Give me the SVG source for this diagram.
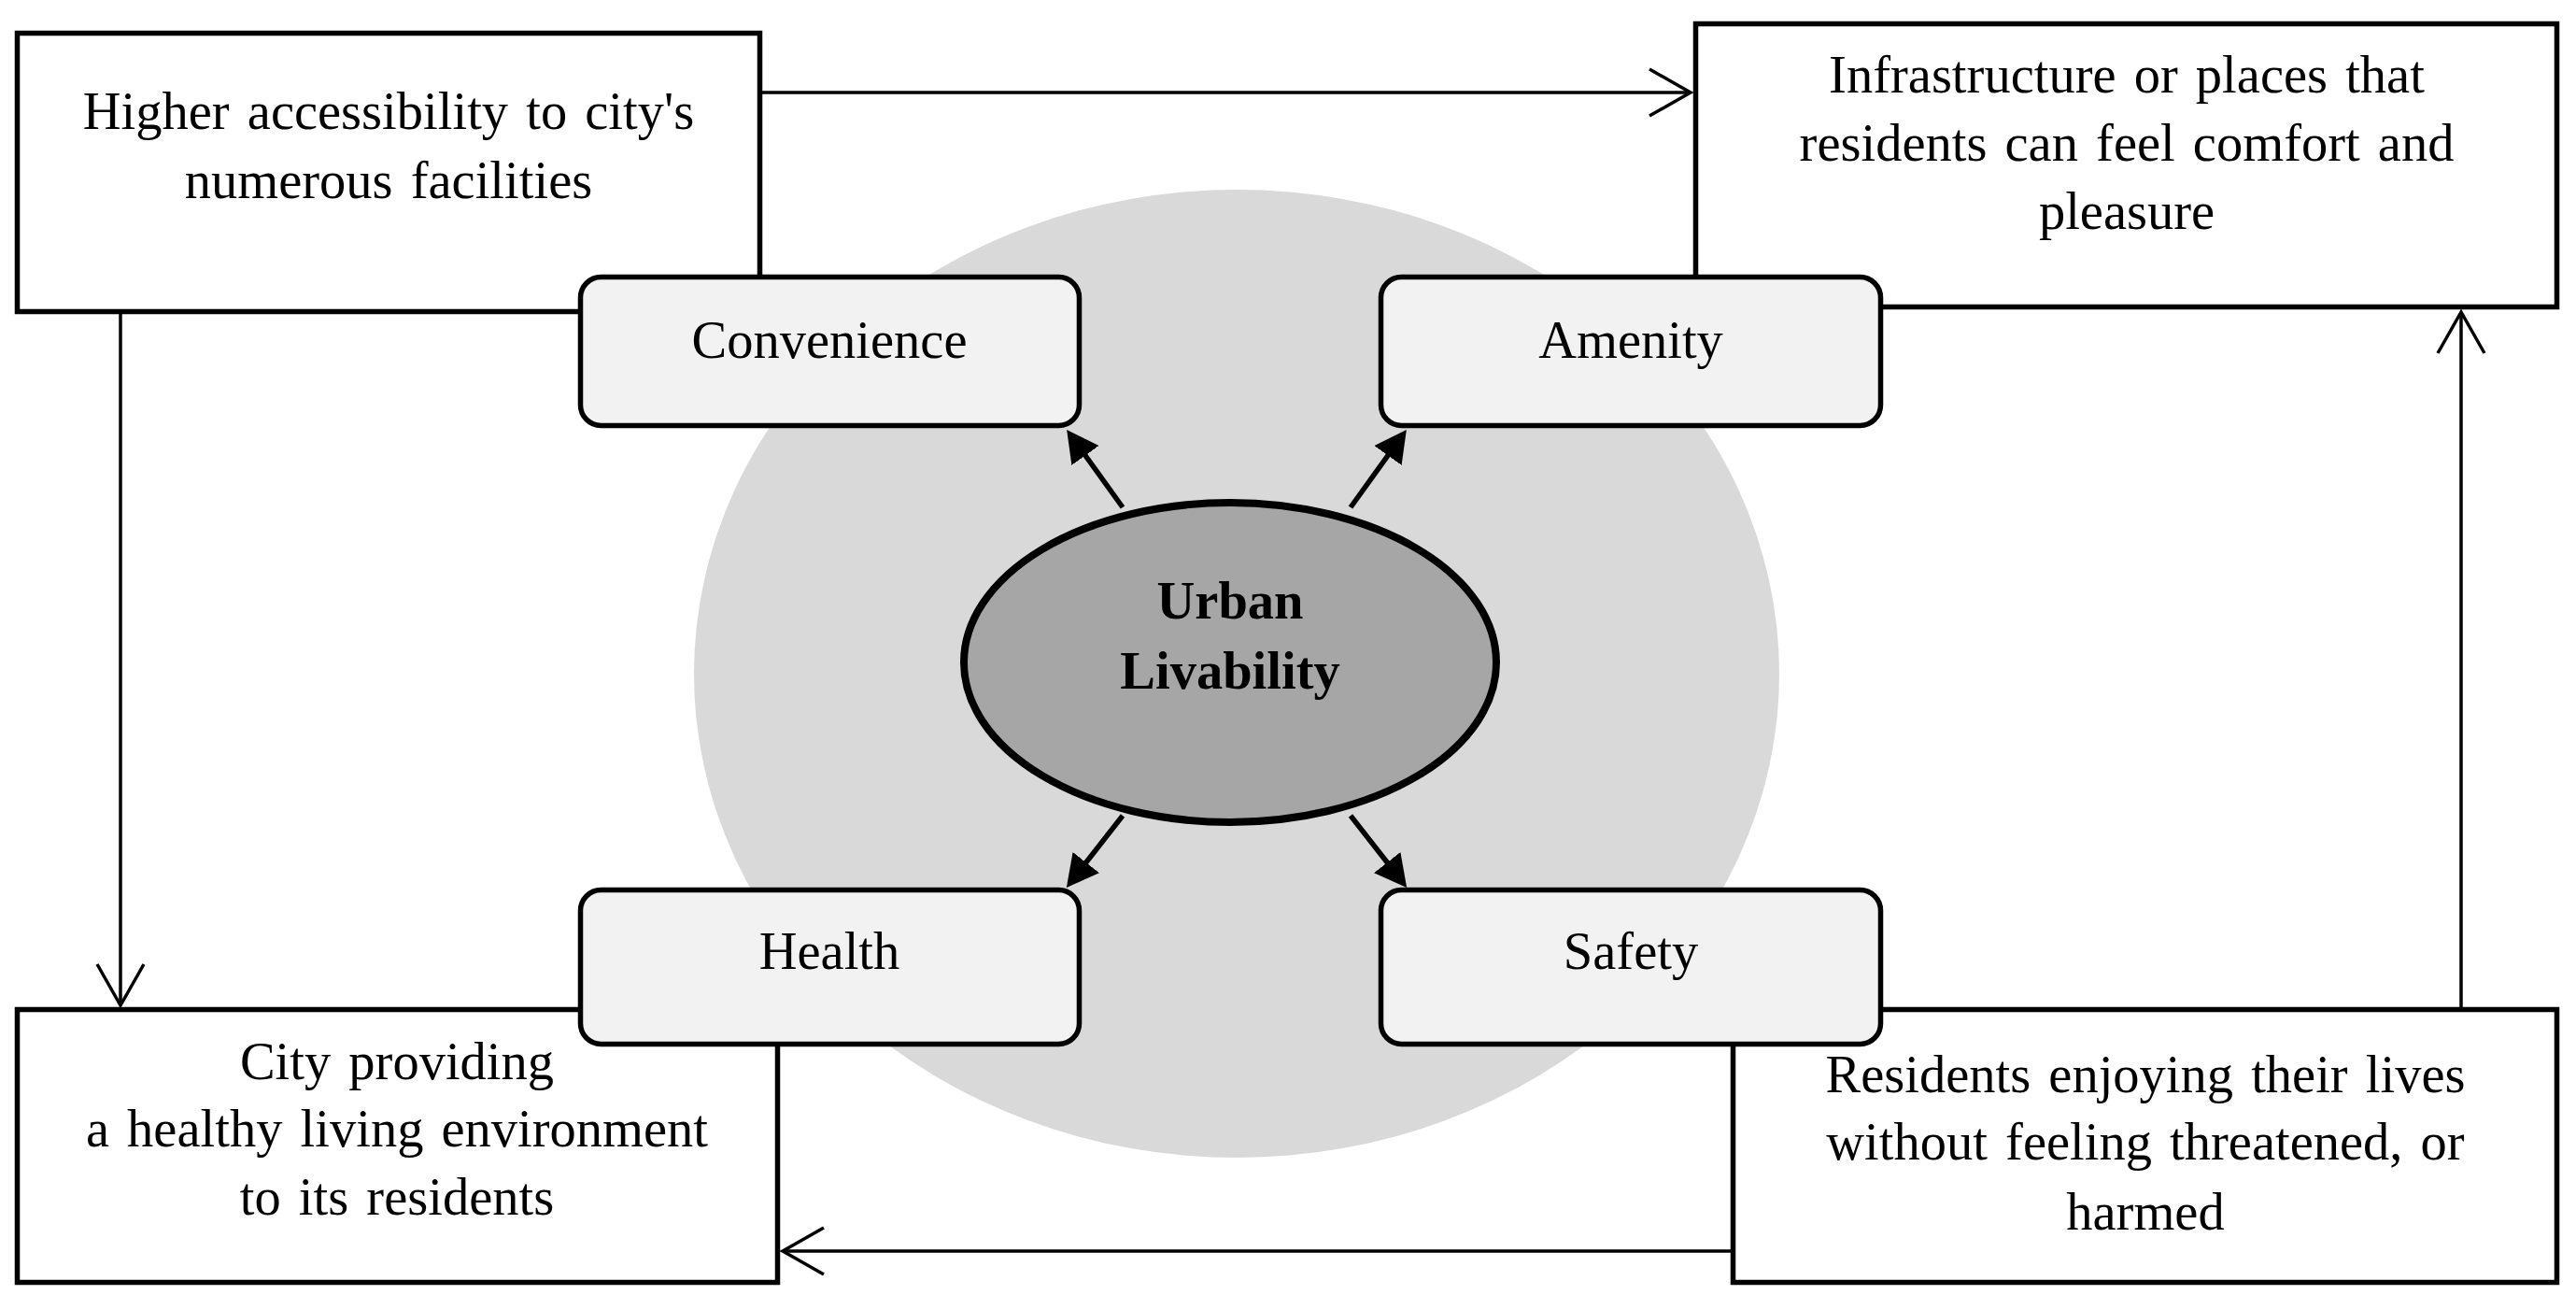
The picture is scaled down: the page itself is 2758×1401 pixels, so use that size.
<svg xmlns="http://www.w3.org/2000/svg" width="2758" height="1401" viewBox="0 0 2758 1401">
<style>
.box{fill:#ffffff;stroke:#000;stroke-width:5.5}
.rbox{fill:#f2f2f2;stroke:#000;stroke-width:5.5}
.t{font-family:"Liberation Serif","Times New Roman",serif;font-size:56.5px;fill:#000;text-anchor:middle;word-spacing:5px}
.tb{font-weight:bold}
.conn{fill:none;stroke:#000;stroke-width:3.5}
.arr{fill:none;stroke:#000;stroke-width:5.5}
</style>
<defs>
<marker id="open" markerUnits="userSpaceOnUse" viewBox="0 0 50 54" refX="46" refY="27" markerWidth="50" markerHeight="54" orient="auto">
<path d="M2,2 L46,27 L2,52" fill="none" stroke="#000" stroke-width="3.5"/>
</marker>
<marker id="solid" markerUnits="userSpaceOnUse" viewBox="0 0 34 36" refX="24" refY="18" markerWidth="34" markerHeight="36" orient="auto">
<path d="M0,0 L34,18 L0,36 z" fill="#000"/>
</marker>
</defs>
<rect width="2758" height="1401" fill="#ffffff"/>
<g id="background">
<ellipse cx="1324" cy="721" rx="581" ry="518" fill="#d9d9d9"/>
</g>
<g id="connectors">
<path class="conn" d="M816 99 H1810" marker-end="url(#open)"/>
<path class="conn" d="M129 336 V1076" marker-end="url(#open)"/>
<path class="conn" d="M1853 1339 H838" marker-end="url(#open)"/>
<path class="conn" d="M2635 1078 V334" marker-end="url(#open)"/>
<path class="arr" d="M1202 543 L1148 468" marker-end="url(#solid)"/>
<path class="arr" d="M1446 543 L1500 468" marker-end="url(#solid)"/>
<path class="arr" d="M1202 873 L1148 942" marker-end="url(#solid)"/>
<path class="arr" d="M1446 873 L1500 942" marker-end="url(#solid)"/>
</g>
<g id="node-accessibility">
<rect class="box" x="18.5" y="35.5" width="795" height="298"/>
<text class="t" x="416" y="138">Higher accessibility to city's</text>
<text class="t" x="416" y="212">numerous facilities</text>
</g>
<g id="node-infrastructure">
<rect class="box" x="1815.5" y="25.5" width="922" height="303"/>
<text class="t" x="2277" y="99">Infrastructure or places that</text>
<text class="t" x="2277" y="172">residents can feel comfort and</text>
<text class="t" x="2277" y="245">pleasure</text>
</g>
<g id="node-healthy-city">
<rect class="box" x="18.5" y="1080.5" width="814" height="292"/>
<text class="t" x="425" y="1155">City providing</text>
<text class="t" x="425" y="1227">a healthy living environment</text>
<text class="t" x="425" y="1300">to its residents</text>
</g>
<g id="node-residents">
<rect class="box" x="1855.5" y="1080.5" width="882" height="292"/>
<text class="t" x="2297" y="1169">Residents enjoying their lives</text>
<text class="t" x="2297" y="1241">without feeling threatened, or</text>
<text class="t" x="2297" y="1316">harmed</text>
</g>
<g id="node-convenience">
<rect class="rbox" x="621.5" y="296.5" width="534" height="159" rx="22"/>
<text class="t" x="888" y="383">Convenience</text>
</g>
<g id="node-amenity">
<rect class="rbox" x="1478.5" y="296.5" width="535" height="159" rx="22"/>
<text class="t" x="1746" y="383">Amenity</text>
</g>
<g id="node-health">
<rect class="rbox" x="621.5" y="952.5" width="534" height="165" rx="22"/>
<text class="t" x="888" y="1037">Health</text>
</g>
<g id="node-safety">
<rect class="rbox" x="1478.5" y="952.5" width="535" height="165" rx="22"/>
<text class="t" x="1746" y="1037">Safety</text>
</g>
<g id="node-urban-livability">
<ellipse cx="1317" cy="709" rx="285" ry="171" fill="#a6a6a6" stroke="#000" stroke-width="8"/>
<text class="t tb" x="1317" y="662">Urban</text>
<text class="t tb" x="1317" y="737">Livability</text>
</g>
</svg>
